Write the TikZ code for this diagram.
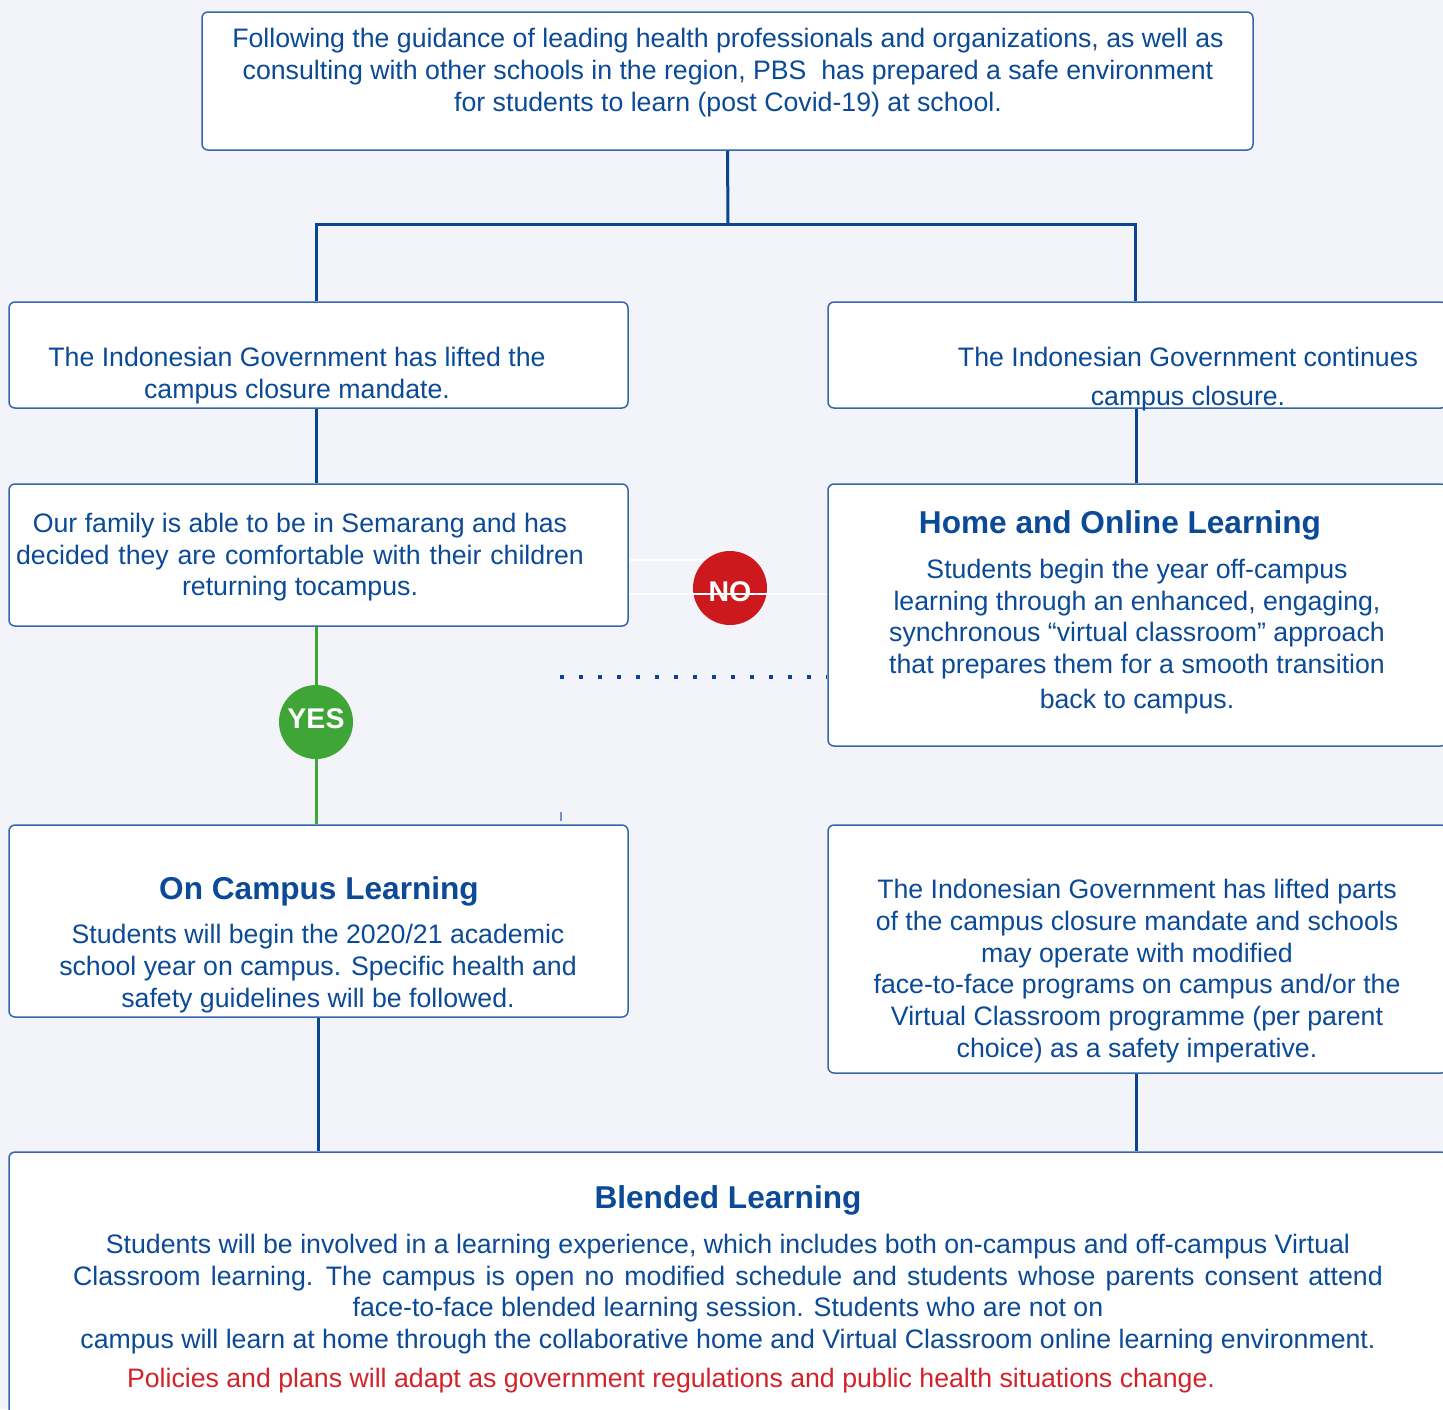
\documentclass[tikz,border=0pt]{standalone}
\usepackage{fontspec}
\setmainfont{Liberation Sans}
\definecolor{bg}{HTML}{F3F4FA}
\definecolor{tblue}{HTML}{0B4A97}
\definecolor{lblue}{HTML}{0A4590}
\definecolor{border}{HTML}{3566AC}
\definecolor{okgreen}{HTML}{3EA536}
\definecolor{nored}{HTML}{CD191D}
\definecolor{redtext}{HTML}{D2232A}
\begin{document}
\begin{tikzpicture}[x=1pt,y=-1pt,
  box/.style={draw=border, line width=1.5pt, fill=white, rounded corners=6pt, inner sep=0pt},
  txt/.style={text=tblue, align=center, inner sep=0pt, font=\fontsize{26.7}{32}\selectfont},
  ttl/.style={text=tblue, inner sep=0pt, font=\fontsize{31.6}{36}\selectfont\bfseries},
  conn/.style={draw=lblue, line width=3pt},
  yesline/.style={draw=okgreen, line width=3pt},
  whiteline/.style={draw=white, line width=2pt},
  dotline/.style={draw=lblue, line width=4pt, dash pattern=on 4pt off 15pt},
  badge/.style={circle, minimum size=74pt, inner sep=0pt},
  badgetext/.style={inner sep=0pt, text=white, font=\fontsize{28.5}{30}\selectfont\bfseries}
]
\clip (0,0) rectangle (1443,1409);
\fill[bg] (0,0) rectangle (1443,1409);

% boxes
\node[box, minimum width=1051pt, minimum height=138pt] (top) at (727.5,81) {};
\node[box, minimum width=619pt, minimum height=106pt] (left1) at (318.5,355) {};
\node[box, minimum width=619pt, minimum height=106pt] (right1) at (1137.5,355) {};
\node[box, minimum width=619pt, minimum height=142pt] (left2) at (318.5,555) {};
\node[box, minimum width=619pt, minimum height=262pt] (right2) at (1137.5,615) {};
\node[box, minimum width=619pt, minimum height=192pt] (left3) at (318.5,921) {};
\node[box, minimum width=619pt, minimum height=248pt] (right3) at (1137.5,949) {};
\node[box, minimum width=1438pt, minimum height=268pt] (bottom) at (728,1286) {};

% texts
\node[txt] (ttop) at (728,72.5) {Following the guidance of leading health professionals and organizations, as well as\\
consulting with other schools in the region, PBS\ \ has prepared a safe environment\\
for students to learn (post Covid-19) at school.};
\node[txt] (tl1) at (297,375.5) {The Indonesian Government has lifted the\\ campus closure mandate.};
\node[txt, font=\fontsize{26.7}{39}\selectfont] (tr1) at (1188,379) {The Indonesian Government continues\\ campus closure.};
\node[txt, font=\fontsize{26.7}{31.5}\selectfont] (tl2) at (300,557.5) {Our family is able to be in Semarang and has\\
{\spaceskip=0.33em\relax decided they are comfortable with their children}\\ returning tocampus.};
\node[ttl] (hr2) at (1120,525) {Home and Online Learning};
\node[txt, font=\fontsize{26.7}{31.7}\selectfont] (tr2) at (1137,636.5) {Students begin the year off-campus\\
learning through an enhanced, engaging,\\
synchronous “virtual classroom” approach\\
that prepares them for a smooth transition\\[3pt]
back to campus.};
\node[ttl] (hl3) at (319,891) {On Campus Learning};
\node[txt] (tl3) at (318,968.5) {Students will begin the 2020/21 academic\\
school year on campus. Specific health and\\
safety guidelines will be followed.};
\node[txt, font=\fontsize{26.7}{31.8}\selectfont] (tr3) at (1137,971) {The Indonesian Government has lifted parts\\
of the campus closure mandate and schools\\
may operate with modified\\
face-to-face programs on campus and/or the\\
Virtual Classroom programme (per parent\\
choice) as a safety imperative.};
\node[ttl] (hb) at (728,1200) {Blended Learning};
\node[txt, font=\fontsize{26.7}{31.7}\selectfont] (tb) at (728,1294) {Students will be involved in a learning experience, which includes both on-campus and off-campus Virtual\\
{\spaceskip=0.38em\relax Classroom learning. The campus is open no modified schedule and students whose parents consent attend}\\
face-to-face blended learning session. Students who are not on\\
campus will learn at home through the collaborative home and Virtual Classroom online learning environment.};
\node[txt, text=redtext] (tred) at (671,1380.5) {Policies and plans will adapt as government regulations and public health situations change.};

% YES badge
\node[badge, fill=okgreen] (yes) at (316,722) {};
\node[badgetext] (yestxt) at ([yshift=3.5pt]yes.center) {YES};

% connectors
\coordinate (j) at (728,224);
\draw[conn] (top.south) -- (j);
\draw[conn] (j) -| ([xshift=-2.5pt]left1.north);
\draw[conn] (j) -| ([xshift=-2pt]right1.north);
\draw[conn] ([xshift=-2.5pt]left1.south) -- ([xshift=-2.5pt]left2.north);
\draw[conn] ([xshift=-1.5pt]right1.south) -- ([xshift=-1.5pt]right2.north);
\draw[yesline] ([xshift=-2.5pt]left2.south) -- (yes.north);
\draw[yesline] (yes.south) -- ([xshift=-2.5pt]left3.north);
\draw[conn] (left3.south) -- (left3.south |- bottom.north);
\draw[conn] ([xshift=-1.5pt]right3.south) -- ([xshift=-1.5pt]right3.south |- bottom.north);

% NO branch
\coordinate (na) at ([yshift=-5pt]left2.east);
\coordinate (nb) at ([yshift=-39pt]left2.east);
\draw[whiteline] (na) -- (na -| 730,0);
\node[badge, fill=nored] (no) at (730,588) {};
\node[badgetext] (notxt) at ([yshift=-4pt]no.center) {NO};
\draw[whiteline] (nb) -- (nb -| right2.west);

% dotted
\coordinate (ds) at (560,677);
\draw[dotline] (ds) -- (ds -| right2.west);
\coordinate (mk) at (561,812);
\draw[draw=border!70, line width=1.5pt, dash pattern=on 9pt off 3pt] (mk) -- (mk |- left3.north);
\end{tikzpicture}
\end{document}
